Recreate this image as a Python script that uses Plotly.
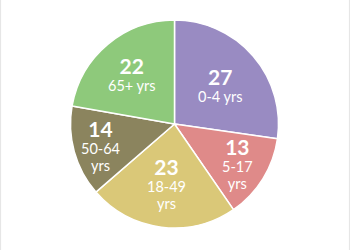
import numpy as np
import plotly.graph_objects as go

values = [27, 13, 23, 14, 22]
labels = ["0-4 yrs", "5-17<br>yrs", "18-49<br>yrs", "50-64<br>yrs", "65+ yrs"]
colors = ["#998bc2", "#df8a89", "#dac878", "#8b845e", "#8ec97b"]

# layout (positions only)
W, H = 350, 250
cx_px, cy_px, R_px = 174.5, 124.0, 104.0
label_radius = [0.58, 0.71, 0.57, 0.74, 0.63]
NUM_SIZE, LAB_SIZE, BASE_SIZE = 21, 14.5, 13

dom_x = [(cx_px - R_px) / W, (cx_px + R_px) / W]
dom_y = [(H - cy_px - R_px) / H, (H - cy_px + R_px) / H]

fig = go.Figure(go.Pie(
    values=values,
    labels=labels,
    sort=False,
    direction="clockwise",
    rotation=0,
    marker=dict(colors=colors, line=dict(color="white", width=1.5)),
    textinfo="none",
    hoverinfo="skip",
    showlegend=False,
    domain=dict(x=dom_x, y=dom_y),
))

vals = np.array(values, dtype=float)
cum = np.cumsum(vals) - vals / 2
ang = cum / vals.sum() * 2 * np.pi  # clockwise from 12 o'clock
annotations = []
for v, lab, a, rf in zip(values, labels, ang, label_radius):
    px = cx_px + rf * R_px * np.sin(a)
    py = cy_px - rf * R_px * np.cos(a)
    lab_lines = "<br>".join(
        f"<span style='font-size:{LAB_SIZE}px'>{ln}</span>" for ln in lab.split("<br>")
    )
    annotations.append(dict(
        x=px / W, y=1 - py / H, xref="paper", yref="paper",
        xanchor="center", yanchor="middle", showarrow=False, align="center",
        text=f"<span style='font-size:{NUM_SIZE}px'><b>{v}</b></span><br>{lab_lines}",
        font=dict(family="Lato", size=BASE_SIZE, color="white"),
    ))

fig.update_layout(
    width=W, height=H,
    margin=dict(l=0, r=0, t=0, b=0),
    paper_bgcolor="white",
    plot_bgcolor="white",
    annotations=annotations,
    shapes=[
        dict(type="line", xref="paper", yref="paper", x0=0.001, x1=0.001, y0=0, y1=1,
             line=dict(color="#e6e6e6", width=1.5)),
        dict(type="line", xref="paper", yref="paper", x0=0.999, x1=0.999, y0=0, y1=1,
             line=dict(color="#e6e6e6", width=1.5)),
    ],
)

fig.write_html("out.html")
